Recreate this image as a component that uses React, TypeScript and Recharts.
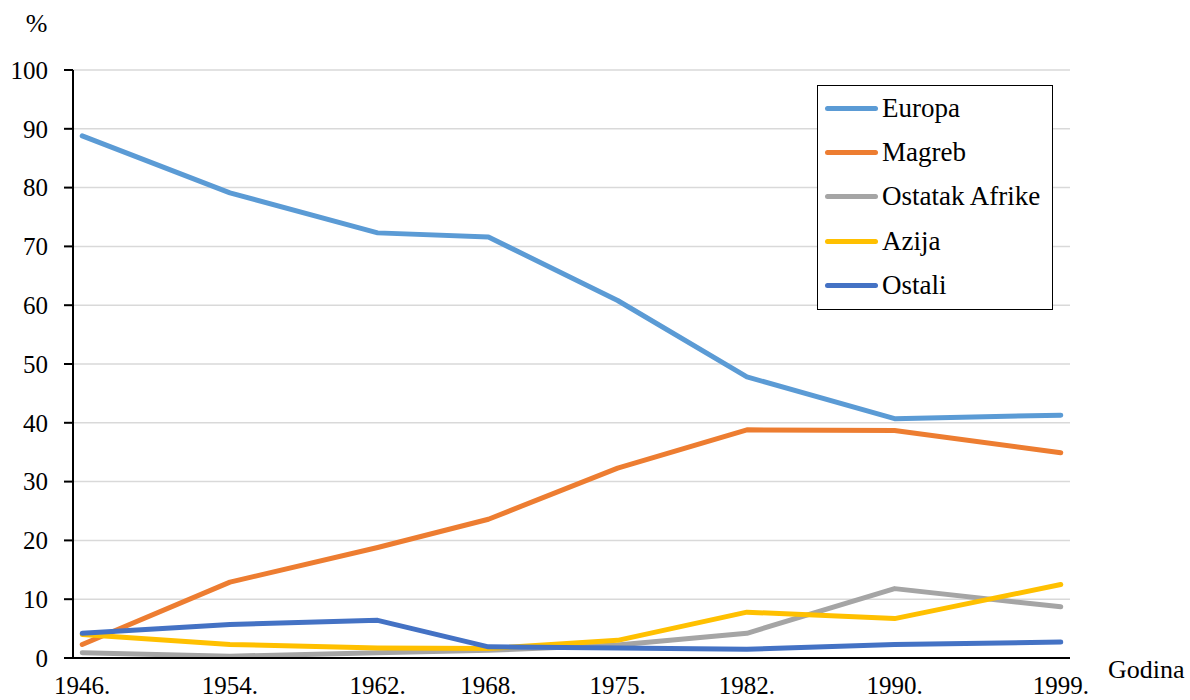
import React from 'react';
import { LineChart, Line, XAxis, YAxis, CartesianGrid, Legend } from 'recharts';

const years = [1946, 1954, 1962, 1968, 1975, 1982, 1990, 1999];
const europa = [88.8, 79.1, 72.3, 71.6, 60.8, 47.8, 40.7, 41.3];
const magreb = [2.3, 12.9, 18.8, 23.6, 32.3, 38.8, 38.7, 34.9];
const ostatakAfrike = [0.9, 0.3, 0.9, 1.3, 2.2, 4.2, 11.8, 8.7];
const azija = [4.0, 2.3, 1.7, 1.6, 3.0, 7.8, 6.7, 12.5];
const ostali = [4.2, 5.7, 6.4, 1.9, 1.7, 1.5, 2.3, 2.7];
const yTicks = [0, 10, 20, 30, 40, 50, 60, 70, 80, 90, 100];
const tickMarkYears = [1946, 1954, 1962, 1968, 1975, 1982, 1990, 1999, 2000];

const seriesNames = ['Europa', 'Magreb', 'Ostatak Afrike', 'Azija', 'Ostali'];
const seriesKeys = ['europa', 'magreb', 'ostatakAfrike', 'azija', 'ostali'];
const seriesColors = ['#5B9BD5', '#ED7D31', '#A5A5A5', '#FFC000', '#4472C4'];

const data = years.map((year, i) => ({
  year,
  europa: europa[i],
  magreb: magreb[i],
  ostatakAfrike: ostatakAfrike[i],
  azija: azija[i],
  ostali: ostali[i],
}));

const FONT = "'Liberation Serif', 'Times New Roman', Tinos, 'DejaVu Serif', serif";

const YearTick = (props: any) => {
  const { x, y, payload } = props;
  return (
    <text x={x} y={y} dy={35} textAnchor="middle" fontSize={25} fontFamily={FONT} fill="#000">
      {`${payload.value}.`}
    </text>
  );
};

const EmptyTick = () => <g />;

const LegendBox = () => (
  <div
    style={{
      border: '1.5px solid #000',
      width: 236,
      height: 225,
      boxSizing: 'border-box',
      background: '#fff',
    }}
  >
    {seriesNames.map((name, i) => (
      <div key={name} style={{ display: 'flex', alignItems: 'center', height: 44.4 }}>
        <div
          style={{
            width: 53,
            height: 5,
            background: seriesColors[i],
            borderRadius: 3,
            marginLeft: 7,
          }}
        />
        <span style={{ marginLeft: 4, fontSize: 27, fontFamily: FONT, color: '#000', lineHeight: 1 }}>
          {name}
        </span>
      </div>
    ))}
  </div>
);

export default function App() {
  return (
    <div style={{ position: 'absolute', left: 0, top: 0, width: 1190, height: 700, background: '#fff' }}>
      <LineChart width={1190} height={700} data={data} margin={{ top: 70, right: 120, left: 0, bottom: 0 }}>
        <CartesianGrid horizontal vertical={false} stroke="#D9D9D9" strokeWidth={1.5} xAxisId={0} yAxisId={0} />
        <XAxis
          xAxisId={0}
          type="number"
          domain={[1946, 2000]}
          allowDataOverflow
          ticks={tickMarkYears}
          tick={<EmptyTick />}
          height={1}
          tickSize={8}
          interval={0}
          axisLine={{ stroke: '#000', strokeWidth: 2 }}
          tickLine={{ stroke: '#000', strokeWidth: 2 }}
          label={{ value: 'Godina', position: 'right', offset: 38, dy: 10, fontSize: 26, fontFamily: FONT, fill: '#000' }}
        />
        <XAxis
          xAxisId="labels"
          type="number"
          dataKey="year"
          domain={[1945.5, 1999.5]}
          allowDataOverflow
          ticks={years}
          tick={<YearTick />}
          tickSize={0}
          tickMargin={0}
          height={41}
          axisLine={false}
          tickLine={false}
          interval={0}
        />
        <YAxis
          yAxisId={0}
          type="number"
          domain={[0, 100]}
          ticks={yTicks}
          width={73}
          tickSize={9}
          tickMargin={16}
          interval={0}
          axisLine={{ stroke: '#000', strokeWidth: 2 }}
          tickLine={{ stroke: '#000', strokeWidth: 2 }}
          tick={{ fontSize: 25, fontFamily: FONT, fill: '#000' }}
          label={{ value: '%', position: 'top', offset: 38, fontSize: 26, fontFamily: FONT, fill: '#000' }}
        />
        <Legend
          layout="vertical"
          align="center"
          verticalAlign="middle"
          content={<LegendBox />}
          wrapperStyle={{ left: 817, top: 85, width: 236, height: 225 }}
        />
        {seriesKeys.map((key, i) => (
          <Line
            key={key}
            xAxisId="labels"
            yAxisId={0}
            type="linear"
            dataKey={key}
            name={seriesNames[i]}
            stroke={seriesColors[i]}
            strokeWidth={5}
            strokeLinecap="round"
            strokeLinejoin="round"
            dot={false}
            activeDot={false}
            isAnimationActive={false}
          />
        ))}
      </LineChart>
    </div>
  );
}
